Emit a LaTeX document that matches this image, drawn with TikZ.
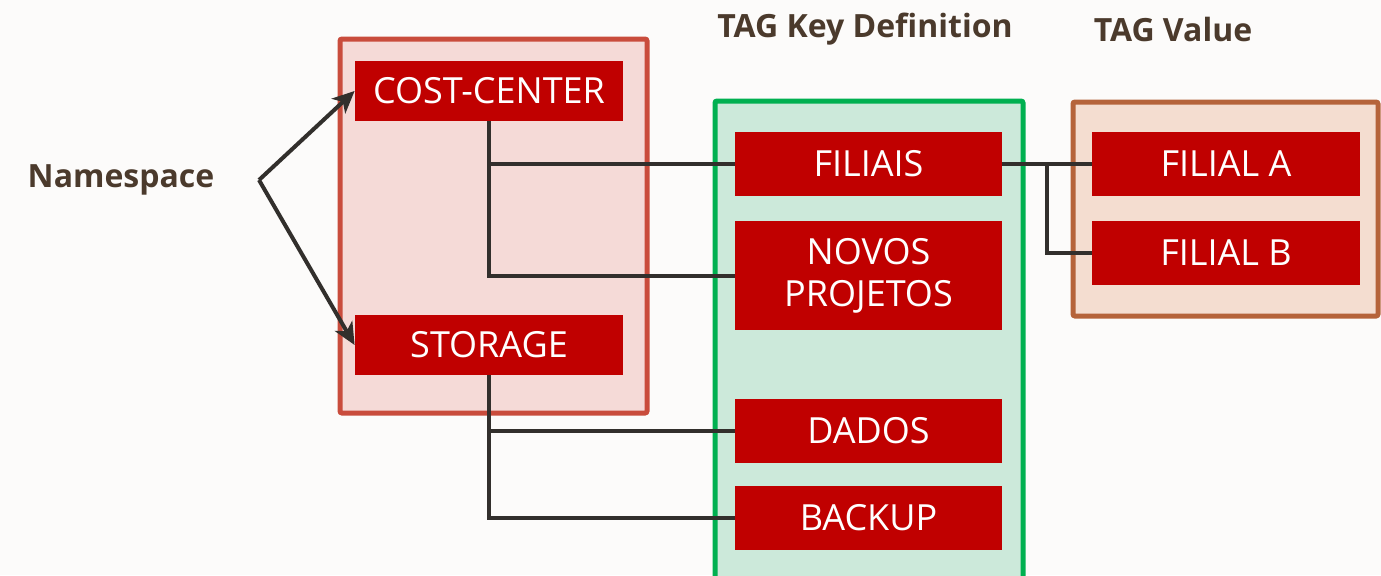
\documentclass[tikz,border=0pt]{standalone}
\usepackage{fontspec}
\setmainfont{Open Sans}
\usetikzlibrary{arrows.meta,calc}
\definecolor{bg}{HTML}{FCFBFA}
\definecolor{boxred}{HTML}{C00000}
\definecolor{nsborder}{HTML}{C94C3C}
\definecolor{nsfill}{HTML}{F5DAD7}
\definecolor{keyborder}{HTML}{00B050}
\definecolor{keyfill}{HTML}{CCE9DA}
\definecolor{valborder}{HTML}{B5633A}
\definecolor{valfill}{HTML}{F4DDD0}
\definecolor{hdr}{HTML}{4B3A2C}
\definecolor{conn}{HTML}{322F2C}
\tikzset{
  tagbox/.style={fill=boxred, text=white, inner sep=0pt, font=\fontsize{18}{21}\selectfont, align=center, minimum width=134pt, minimum height=32pt},
  container/.style={line width=2.5pt, rounded corners=1pt, inner sep=0pt},
  header/.style={text=hdr, font=\fontsize{16}{19}\selectfont\bfseries},
  link/.style={draw=conn, line width=2pt},
  arr/.style={link, -{Stealth[length=11pt,width=10pt,inset=3pt]}}
}
\begin{document}
\begin{tikzpicture}[x=0.5pt,y=-0.5pt]
\useasboundingbox (0,0) rectangle (1381,575);
\clip (0,0) rectangle (1381,575);
\fill[bg] (0,0) rectangle (1381,575);
% containers
\node[container, draw=nsborder, fill=nsfill, minimum width=153.5pt, minimum height=187pt] (nsbox) at (493.5,226) {};
\node[container, draw=keyborder, fill=keyfill, minimum width=154pt, minimum height=250pt] (keybox) at (869,351) {};
\node[container, draw=valborder, fill=valfill, minimum width=152.5pt, minimum height=107pt] (valbox) at (1225.5,209) {};
% headers
\node[header] (ns) at (121,180) {Namespace};
\node[header] (hkey) at (865,29) {TAG Key Definition};
\node[header] (hval) at (1173,29) {TAG Value};
% boxes
\node[tagbox, minimum height=30pt] (cc) at (489,91) {COST-CENTER};
\node[tagbox, minimum height=30pt] (st) at (489,345) {STORAGE};
\node[tagbox, minimum width=133.5pt] (fil) at (868.5,164) {FILIAIS};
\node[tagbox, minimum width=133.5pt, minimum height=54.5pt, font=\fontsize{18}{21}\selectfont] (nov) at (868.5,275.5) {NOVOS\\PROJETOS};
\node[tagbox, minimum width=133.5pt] (dad) at (868.5,431) {DADOS};
\node[tagbox, minimum width=133.5pt] (bak) at (868.5,518) {BACKUP};
\node[tagbox] (fa) at (1226,164) {FILIAL A};
\node[tagbox] (fb) at (1226,253) {FILIAL B};
% connectors
\coordinate (nsp) at (259,180);
\draw[arr] (nsp) -- (cc.west);
\draw[arr] (nsp) -- (st.west);
\draw[link] (cc.south) |- (fil.west);
\draw[link] (cc.south) |- (nov.west);
\draw[link] (st.south) |- (dad.west);
\draw[link] (st.south) |- (bak.west);
\draw[link] (fil.east) -- (fa.west);
\coordinate (j) at ($(fil.east)!0.5!(fa.west)$);
\draw[link] (j) |- (fb.west);
\end{tikzpicture}
\end{document}
